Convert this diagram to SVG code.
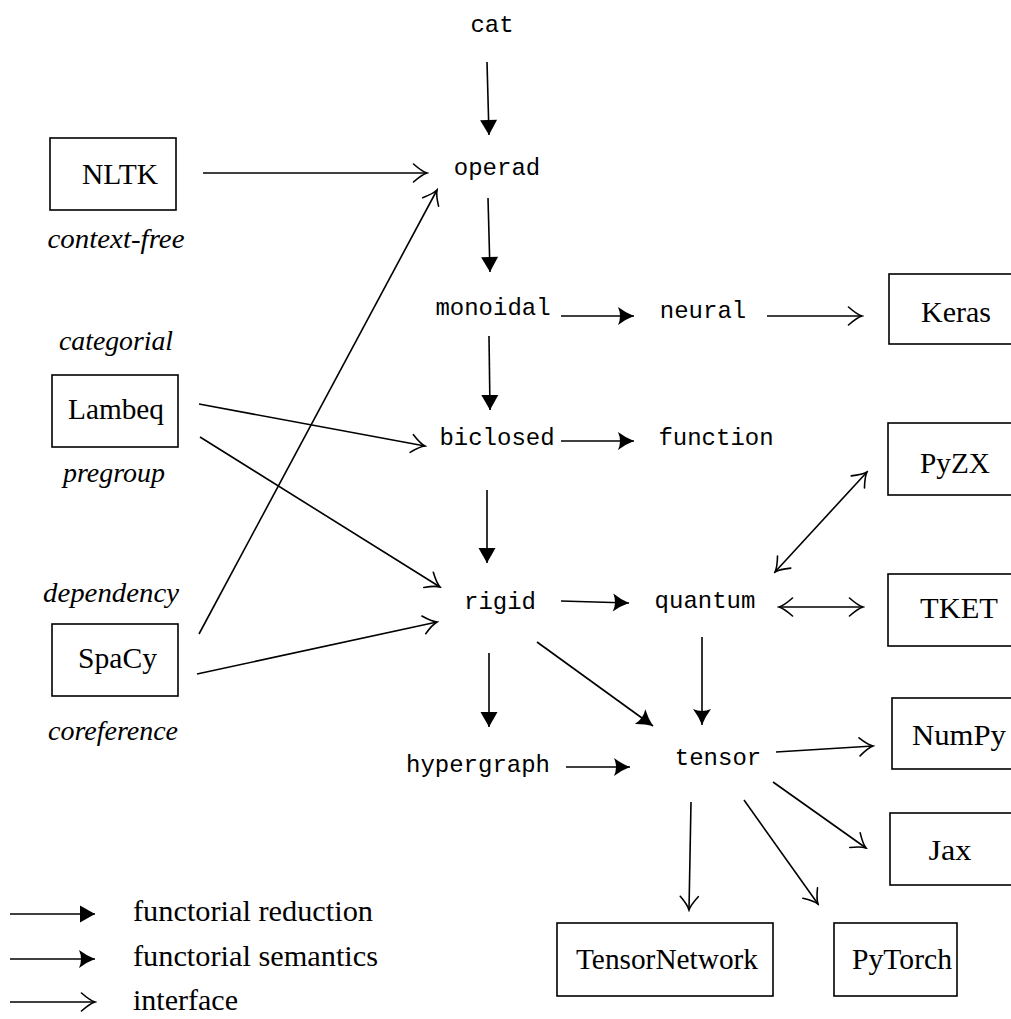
<svg xmlns="http://www.w3.org/2000/svg" width="1011" height="1019" viewBox="0 0 1011 1019">
<style>
.mono{font-family:"Liberation Mono","DejaVu Sans Mono",monospace;font-size:24px;fill:#000;text-anchor:middle}
.lbl{font-family:"Liberation Serif","DejaVu Serif",serif;font-size:29px;fill:#000;text-anchor:middle}
.it{font-family:"Liberation Serif","DejaVu Serif",serif;font-size:28px;font-style:italic;fill:#000;text-anchor:middle}
.leg{font-family:"Liberation Serif","DejaVu Serif",serif;font-size:29px;fill:#000}
.box{fill:#fff;stroke:#000;stroke-width:1.6}
.red{stroke:#000;stroke-width:1.6;fill:none;marker-end:url(#mRed)}
.sem{stroke:#000;stroke-width:1.6;fill:none;marker-end:url(#mSem)}
.itf{stroke:#000;stroke-width:1.6;fill:none;marker-end:url(#mItf)}
.itf2{stroke:#000;stroke-width:1.6;fill:none;marker-end:url(#mItf);marker-start:url(#mItf)}
</style>
<defs>
<marker id="mRed" markerUnits="userSpaceOnUse" viewBox="-17 -10 18 20" refX="0" refY="0" markerWidth="18" markerHeight="20" orient="auto">
<path d="M0,0 L-15,-8.5 L-15,8.5 Z" fill="#000"/>
</marker>
<marker id="mSem" markerUnits="userSpaceOnUse" viewBox="-18 -10 19 20" refX="0" refY="0" markerWidth="19" markerHeight="20" orient="auto">
<path d="M0,0 Q-8,-3 -16,-9 Q-12,0 -16,9 Q-8,3 0,0 Z" fill="#000"/>
</marker>
<marker id="mItf" markerUnits="userSpaceOnUse" viewBox="-16 -11 18 22" refX="0" refY="0" markerWidth="18" markerHeight="22" orient="auto-start-reverse">
<path d="M-13.5,-9 Q-5,-1.5 0,0 Q-5,1.5 -13.5,9" fill="none" stroke="#000" stroke-width="1.6" stroke-linecap="round"/>
</marker>
</defs>

<g id="connectors">
<line class="red" x1="487" y1="62" x2="489" y2="135"/>
<line class="red" x1="488" y1="198" x2="490" y2="272"/>
<line class="red" x1="489" y1="336" x2="490" y2="410"/>
<line class="red" x1="487" y1="490" x2="487" y2="563"/>
<line class="red" x1="489" y1="653" x2="489" y2="727"/>
<line class="sem" x1="561" y1="316" x2="634" y2="316"/>
<line class="sem" x1="561" y1="441" x2="634" y2="441"/>
<line class="sem" x1="561" y1="601" x2="629" y2="603"/>
<line class="sem" x1="537" y1="642" x2="653" y2="726"/>
<line class="sem" x1="702" y1="637" x2="702" y2="725"/>
<line class="sem" x1="566" y1="767" x2="630" y2="767"/>
<line class="itf" x1="203" y1="173" x2="427" y2="173"/>
<line class="itf" x1="199" y1="404" x2="425" y2="446"/>
<line class="itf" x1="200" y1="437" x2="440" y2="587"/>
<line class="itf" x1="199" y1="634" x2="437" y2="190"/>
<line class="itf" x1="197" y1="674" x2="437" y2="622"/>
<line class="itf" x1="767" y1="316" x2="862" y2="316"/>
<line class="itf2" x1="775" y1="572" x2="867" y2="472"/>
<line class="itf2" x1="779" y1="607" x2="863" y2="607"/>
<line class="itf" x1="776" y1="752" x2="873" y2="746"/>
<line class="itf" x1="773" y1="782" x2="866" y2="848"/>
<line class="itf" x1="691" y1="802" x2="689" y2="910"/>
<line class="itf" x1="744" y1="800" x2="818" y2="904"/>
</g>

<g id="cat"><text class="mono" x="492" y="32">cat</text></g>
<g id="operad"><text class="mono" x="497" y="175">operad</text></g>
<g id="monoidal"><text class="mono" x="493" y="315">monoidal</text></g>
<g id="neural"><text class="mono" x="703" y="318">neural</text></g>
<g id="biclosed"><text class="mono" x="497" y="445">biclosed</text></g>
<g id="function"><text class="mono" x="716" y="445">function</text></g>
<g id="rigid"><text class="mono" x="500" y="609">rigid</text></g>
<g id="quantum"><text class="mono" x="705" y="608">quantum</text></g>
<g id="hypergraph"><text class="mono" x="478" y="772">hypergraph</text></g>
<g id="tensor"><text class="mono" x="718" y="765">tensor</text></g>

<g id="nltk"><rect class="box" x="50" y="138" width="126" height="72"/><text class="lbl" x="120" y="184" textLength="76" lengthAdjust="spacingAndGlyphs">NLTK</text></g>
<g id="lambeq"><rect class="box" x="52" y="375" width="126" height="72"/><text class="lbl" x="116" y="419" textLength="96" lengthAdjust="spacingAndGlyphs">Lambeq</text></g>
<g id="spacy"><rect class="box" x="52" y="624" width="126" height="72"/><text class="lbl" x="117.5" y="668" textLength="79" lengthAdjust="spacingAndGlyphs">SpaCy</text></g>
<g id="label-context-free"><text class="it" x="116" y="248" textLength="137" lengthAdjust="spacingAndGlyphs">context-free</text></g>
<g id="label-categorial"><text class="it" x="116" y="350" textLength="114" lengthAdjust="spacingAndGlyphs">categorial</text></g>
<g id="label-pregroup"><text class="it" x="114" y="482" textLength="102" lengthAdjust="spacingAndGlyphs">pregroup</text></g>
<g id="label-dependency"><text class="it" x="111" y="602" textLength="136" lengthAdjust="spacingAndGlyphs">dependency</text></g>
<g id="label-coreference"><text class="it" x="113" y="740" textLength="130" lengthAdjust="spacingAndGlyphs">coreference</text></g>

<g id="keras"><rect class="box" x="889" y="274" width="130" height="70"/><text class="lbl" x="956" y="322" textLength="70" lengthAdjust="spacingAndGlyphs">Keras</text></g>
<g id="pyzx"><rect class="box" x="888" y="423" width="130" height="72"/><text class="lbl" x="955" y="473" textLength="70" lengthAdjust="spacingAndGlyphs">PyZX</text></g>
<g id="tket"><rect class="box" x="888" y="574" width="130" height="72"/><text class="lbl" x="959" y="618" textLength="78" lengthAdjust="spacingAndGlyphs">TKET</text></g>
<g id="numpy"><rect class="box" x="892" y="698" width="126" height="71"/><text class="lbl" x="959" y="745" textLength="94" lengthAdjust="spacingAndGlyphs">NumPy</text></g>
<g id="jax"><rect class="box" x="890" y="813" width="128" height="72"/><text class="lbl" x="950" y="860" textLength="43" lengthAdjust="spacingAndGlyphs">Jax</text></g>
<g id="tensornetwork"><rect class="box" x="557" y="923" width="216" height="73"/><text class="lbl" x="667" y="969" textLength="182" lengthAdjust="spacingAndGlyphs">TensorNetwork</text></g>
<g id="pytorch"><rect class="box" x="834" y="923" width="123" height="73"/><text class="lbl" x="902" y="969" textLength="100" lengthAdjust="spacingAndGlyphs">PyTorch</text></g>

<g id="legend">
<line class="red" x1="10" y1="914" x2="95" y2="914"/>
<line class="sem" x1="10" y1="959" x2="95" y2="959"/>
<line class="itf" x1="10" y1="1002" x2="95" y2="1002"/>
<text class="leg" x="133" y="921" textLength="240" lengthAdjust="spacingAndGlyphs">functorial reduction</text>
<text class="leg" x="133" y="966" textLength="245" lengthAdjust="spacingAndGlyphs">functorial semantics</text>
<text class="leg" x="133" y="1010" textLength="105" lengthAdjust="spacingAndGlyphs">interface</text>
</g>
</svg>
